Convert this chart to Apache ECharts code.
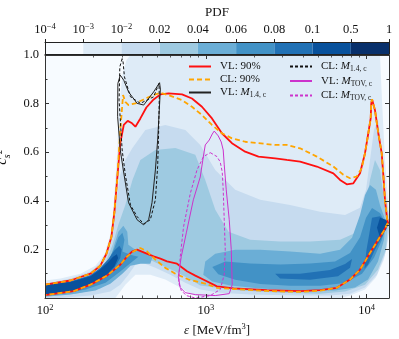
<!DOCTYPE html>
<html><head><meta charset="utf-8">
<script src="https://cdn.jsdelivr.net/npm/echarts@6/dist/echarts.min.js"></script>
<style>html,body{margin:0;padding:0;background:#fff}#c{width:399px;height:339px}</style>
</head><body><div id="c"></div>
<script>
// ---------- data ----------
const xMajorTicks = [100, 1000, 10000];
const xMinorTicks = [200,300,400,500,600,700,800,900,2000,3000,4000,5000,6000,7000,8000,9000];
const pdfBinLabels = ['10^-4','10^-3','10^-2','0.02','0.04','0.06','0.08','0.1','0.5','1'];
const pdfBins = [0,1,2,3,4,5,6,7,8];

const vl90 = [[100,0.055],[144,0.072],[192,0.100],[221,0.133],[241,0.182],[259,0.252],[270,0.351],[281,0.486],[294,0.638],[309,0.712],[327,0.729],[348,0.719],[365,0.705],[392,0.739],[427,0.784],[474,0.817],[522,0.838],[587,0.842],[712,0.838],[821,0.821],[947,0.787],[1093,0.739],[1260,0.678],[1455,0.637],[1759,0.602],[2128,0.582],[2702,0.575],[3193,0.568],[3863,0.561],[4906,0.541],[6220,0.513],[6845,0.486],[7535,0.468],[8279,0.472],[9113,0.513],[9788,0.596],[10260,0.678],[10620,0.740],[10700,0.800],[10820,0.818],[11290,0.773],[11840,0.678],[12430,0.596],[12720,0.507],[13030,0.404],[13410,0.330],[13600,0.310],[12840,0.277],[12130,0.252],[10510,0.185],[9113,0.117],[7899,0.076],[6530,0.042],[5143,0.032],[3863,0.028],[2399,0.032],[1489,0.040],[1174,0.048],[993,0.072],[861,0.092],[765,0.110],[662,0.141],[574,0.151],[522,0.162],[474,0.171],[411,0.188],[374,0.199],[348,0.191],[324,0.171],[294,0.137],[243,0.092],[192,0.055],[151,0.028],[100,0.012]];
const cl90 = [[100,0.055],[144,0.072],[192,0.100],[221,0.133],[241,0.182],[259,0.252],[270,0.351],[281,0.486],[294,0.691],[306,0.835],[316,0.807],[331,0.794],[365,0.801],[411,0.817],[474,0.835],[522,0.844],[587,0.835],[712,0.814],[821,0.787],[947,0.753],[1093,0.712],[1260,0.678],[1455,0.657],[1759,0.643],[2128,0.637],[2702,0.630],[3193,0.630],[3863,0.616],[4906,0.582],[6220,0.541],[7177,0.507],[7899,0.493],[8693,0.500],[9337,0.534],[9788,0.596],[10260,0.678],[10620,0.740],[10700,0.800],[10820,0.818],[11290,0.773],[11840,0.678],[12430,0.596],[12720,0.507],[13030,0.404],[13410,0.330],[13600,0.310],[12840,0.277],[12130,0.252],[10510,0.185],[9113,0.117],[7899,0.076],[6530,0.042],[5143,0.030],[3863,0.025],[2399,0.029],[1489,0.037],[1174,0.042],[993,0.059],[782,0.076],[647,0.100],[560,0.124],[486,0.158],[431,0.192],[392,0.206],[356,0.192],[324,0.171],[294,0.137],[243,0.092],[192,0.055],[151,0.028],[100,0.012]];
const vlM14 = [[294,0.917],[284,0.883],[283,0.746],[294,0.609],[307,0.527],[331,0.392],[374,0.322],[411,0.301],[441,0.322],[463,0.392],[486,0.527],[502,0.650],[514,0.773],[522,0.860],[516,0.886],[474,0.848],[411,0.794],[374,0.801],[331,0.848],[309,0.896],[294,0.917]];
const clM14 = [[302,0.985],[292,0.951],[289,0.814],[302,0.609],[316,0.507],[340,0.383],[374,0.335],[411,0.305],[452,0.322],[486,0.404],[502,0.541],[509,0.678],[514,0.828],[512,0.883],[474,0.828],[392,0.801],[340,0.828],[312,0.910],[306,0.971],[302,0.985]];
const vlMtov = [[1129,0.687],[1196,0.667],[1248,0.642],[1284,0.609],[1303,0.548],[1341,0.445],[1400,0.322],[1441,0.199],[1461,0.055],[1400,0.018],[1146,0.010],[861,0.014],[746,0.022],[694,0.043],[675,0.088],[704,0.170],[757,0.268],[837,0.404],[924,0.498],[965,0.580],[993,0.630],[1051,0.650],[1098,0.675],[1129,0.687]];
const clMtov = [[1067,0.598],[1174,0.582],[1230,0.560],[1266,0.519],[1284,0.445],[1303,0.322],[1322,0.199],[1303,0.096],[1230,0.035],[1067,0.010],[861,0.0],[757,0.010],[704,0.031],[678,0.063],[694,0.171],[728,0.294],[802,0.431],[882,0.527],[969,0.582],[1067,0.598]];

// density contour regions (filled bands of the PDF)
const dens1 = [[100,0.072],[125,0.080],[166,0.100],[206,0.133],[234,0.178],[255,0.260],[266,0.363],[274,0.486],[282,0.609],[286,0.732],[294,0.835],[303,0.917],[321,0.978],[340,1.0],[12130,1.0],[12480,0.814],[13030,0.568],[13600,0.404],[13800,0.310],[13600,0.240],[12840,0.158],[11450,0.084],[9788,0.035],[7899,0.010],[6845,0.0],[924,0.0],[802,0.018],[694,0.043],[560,0.076],[452,0.096],[365,0.096],[316,0.055],[274,0.0],[100,0.0]];
const dens2 = [[100,0.059],[144,0.080],[192,0.109],[228,0.150],[248,0.207],[263,0.301],[278,0.404],[294,0.507],[316,0.568],[350,0.617],[421,0.691],[560,0.712],[746,0.691],[924,0.630],[1146,0.527],[1525,0.445],[2181,0.404],[3347,0.383],[5143,0.355],[7354,0.342],[9113,0.371],[9929,0.445],[10512,0.568],[11130,0.691],[11790,0.732],[12480,0.609],[13030,0.445],[13800,0.342],[13800,0.273],[13030,0.178],[11620,0.096],[9788,0.043],[7899,0.018],[5934,0.010],[3863,0.010],[1890,0.014],[1230,0.022],[924,0.035],[746,0.063],[602,0.096],[486,0.125],[403,0.145],[365,0.137],[330,0.096],[294,0.055],[255,0.027],[192,0.010],[125,0.0],[100,0.0]];
const dens3 = [[100,0.051],[155,0.072],[206,0.104],[238,0.145],[263,0.219],[286,0.301],[316,0.383],[350,0.486],[392,0.568],[486,0.609],[647,0.617],[861,0.589],[993,0.486],[1146,0.363],[1386,0.273],[1890,0.240],[2902,0.232],[4459,0.232],[6845,0.240],[8860,0.273],[9788,0.363],[10512,0.486],[11290,0.568],[12130,0.527],[12840,0.404],[13600,0.314],[13210,0.199],[11790,0.117],[9788,0.055],[7354,0.027],[5143,0.018],[2902,0.022],[1638,0.031],[1146,0.043],[924,0.051],[802,0.076],[647,0.109],[507,0.141],[421,0.166],[365,0.166],[316,0.125],[274,0.076],[221,0.039],[155,0.018],[100,0.010]];
const dens4a = [[100,0.054],[144,0.066],[192,0.090],[228,0.122],[255,0.165],[270,0.219],[286,0.273],[307,0.297],[325,0.273],[330,0.219],[365,0.199],[421,0.187],[465,0.166],[452,0.141],[392,0.141],[340,0.133],[303,0.100],[255,0.059],[206,0.031],[144,0.014],[100,0.005]];
const dens4b = [[993,0.150],[1146,0.182],[1525,0.199],[2181,0.199],[3347,0.191],[5143,0.182],[6845,0.199],[8128,0.248],[9113,0.342],[9788,0.424],[10512,0.465],[11450,0.445],[12130,0.383],[13210,0.314],[12840,0.240],[11790,0.150],[10216,0.076],[8483,0.043],[6373,0.031],[3863,0.031],[2181,0.039],[1420,0.051],[1098,0.068],[965,0.096]];
const dens5a = [[100,0.054],[144,0.068],[186,0.090],[221,0.120],[248,0.155],[270,0.205],[286,0.250],[303,0.269],[312,0.240],[303,0.191],[340,0.178],[381,0.170],[350,0.150],[294,0.109],[238,0.063],[179,0.035],[125,0.016],[100,0.010]];
const dens5b = [[1098,0.128],[1322,0.150],[1890,0.142],[2902,0.138],[4459,0.142],[6373,0.150],[7899,0.185],[9113,0.250],[9929,0.330],[10820,0.370],[12130,0.350],[13210,0.306],[12480,0.240],[11130,0.166],[9376,0.100],[7354,0.062],[5143,0.050],[3347,0.050],[2181,0.058],[1525,0.075],[1196,0.098]];
const dens6a = [[100,0.054],[144,0.068],[192,0.094],[221,0.125],[248,0.160],[270,0.195],[290,0.215],[300,0.200],[294,0.165],[270,0.125],[240,0.090],[200,0.058],[150,0.030],[100,0.012]];
const dens6b = [[2700,0.100],[3863,0.100],[5934,0.115],[7354,0.140],[8128,0.160],[7899,0.125],[6653,0.090],[4459,0.075],[2902,0.080]];
const dens6c = [[10820,0.330],[12130,0.336],[13210,0.314],[12720,0.260],[11290,0.199],[10216,0.137],[9700,0.120],[10000,0.199],[10512,0.281]];
const dens7a = [[100,0.052],[144,0.066],[192,0.090],[221,0.118],[245,0.145],[265,0.170],[280,0.180],[285,0.165],[270,0.130],[245,0.100],[215,0.070],[180,0.045],[140,0.025],[100,0.014]];
const dens7b = [[12130,0.330],[13210,0.322],[13800,0.310],[13210,0.281],[12130,0.248],[11620,0.289]];

const densPolys = [dens1, dens2, dens3, dens4a, dens4b, dens5a, dens5b, dens6a, dens6b, dens6c, dens7a, dens7b];
const densLevel = [1, 2, 3, 4, 4, 5, 5, 6, 6, 6, 7, 7];

// ---------- styles ----------
const pdfColors = ['#f7fbff','#deebf7','#c6dbef','#9ecae1','#6baed6','#4292c6','#2171b5','#08519c','#08306b'];
const FONT = 'Liberation Serif';
const TXT = '#111';
const AX = '#333';

const powRich = {
  b: {fontFamily: FONT, fontSize: 12.5, color: TXT, lineHeight: 16},
  s: {fontFamily: FONT, fontSize: 8.5, color: TXT, lineHeight: 9, verticalAlign: 'top'}
};
function powLabel(v) {
  const p = Math.log10(v);
  if (Math.abs(p - Math.round(p)) > 1e-6) return '';
  return '{b|10}{s|' + Math.round(p) + '}';
}
function cbLabel(v) {
  const t = pdfBinLabels[Math.round(v)];
  if (t === undefined) return '';
  if (t.indexOf('10^') === 0) return '{b|10}{s|' + t.slice(3).replace('-', '\u2212') + '}';
  return '{b|' + t + '}';
}
const legendRich = {
  t: {fontFamily: FONT, fontSize: 11, color: TXT, lineHeight: 14},
  m: {fontFamily: FONT, fontSize: 11, fontStyle: 'italic', color: TXT, lineHeight: 14},
  s: {fontFamily: FONT, fontSize: 7.5, color: TXT, lineHeight: 8, verticalAlign: 'bottom'}
};
function legendFmt(name) {
  const parts = name.split(': ');
  const pre = '{t|' + parts[0] + ': }';
  if (parts[1] === 'M1.4,c') return pre + '{m|M}{s|1.4, c}';
  if (parts[1] === 'MTOV,c') return pre + '{m|M}{s|TOV, c}';
  return '{t|' + name + '}';
}

const chart = echarts.init(document.getElementById('c'), null, {renderer: 'canvas', width: 399, height: 339});

const legendBase = {orient: 'vertical', top: 56, itemWidth: 22, itemHeight: 10, itemGap: 2,
  formatter: legendFmt, itemStyle: {opacity: 0}, textStyle: {rich: legendRich, padding: [0, 0, 0, 4]}};

const option = {
  animation: false,
  backgroundColor: '#ffffff',
  grid: [
    {left: 45, right: 10, top: 55, bottom: 41, show: true, backgroundColor: pdfColors[0], borderWidth: 0, outerBoundsMode: 'none', containLabel: false},
    {left: 45, right: 10, top: 42, height: 12, show: false, outerBoundsMode: 'none', containLabel: false}
  ],
  xAxis: [
    {type: 'log', gridIndex: 0, min: 100, max: 13800, logBase: 10, position: 'bottom', z: 10,
     axisLine: {show: true, onZero: false, lineStyle: {color: AX, width: 1}},
     axisTick: {show: true, inside: true, length: 4, lineStyle: {color: AX}},
     splitLine: {show: false}, minorTick: {show: false},
     axisLabel: {formatter: powLabel, rich: powRich, margin: 5, showMinLabel: true, showMaxLabel: false},
     name: '{e|\u03b5} {t|[MeV/fm}{s|3}{t|]}', nameLocation: 'middle', nameGap: 17,
     nameTextStyle: {rich: {
       e: {fontFamily: FONT, fontSize: 13, fontStyle: 'italic', color: TXT, lineHeight: 16},
       t: {fontFamily: FONT, fontSize: 13, color: TXT, lineHeight: 16},
       s: {fontFamily: FONT, fontSize: 8.5, color: TXT, lineHeight: 9, verticalAlign: 'top'}}}},
    {type: 'log', gridIndex: 0, min: 100, max: 13800, logBase: 10, position: 'top', z: 10,
     axisLine: {show: true, onZero: false, lineStyle: {color: AX, width: 1}},
     axisTick: {show: true, inside: true, length: 4, lineStyle: {color: AX}},
     splitLine: {show: false}, axisLabel: {show: false}},
    {type: 'value', gridIndex: 1, min: 0, max: 9, interval: 1, position: 'top', z: 10,
     axisLine: {show: true, onZero: false, lineStyle: {color: '#222', width: 1}},
     axisTick: {show: true, inside: false, length: 3, lineStyle: {color: '#222'}},
     splitLine: {show: false},
     axisLabel: {formatter: cbLabel, rich: powRich, margin: 4},
     name: 'PDF', nameLocation: 'middle', nameGap: 23,
     nameTextStyle: {fontFamily: FONT, fontSize: 13, color: TXT}},
    {type: 'value', gridIndex: 1, min: 0, max: 9, position: 'bottom', z: 10,
     axisLine: {show: true, onZero: false, lineStyle: {color: '#222', width: 1}},
     axisTick: {show: false}, axisLabel: {show: false}, splitLine: {show: false}}
  ],
  yAxis: [
    {type: 'value', gridIndex: 0, min: 0, max: 1, interval: 0.2, position: 'left', z: 10,
     axisLine: {show: true, onZero: false, lineStyle: {color: AX, width: 1}},
     axisTick: {show: true, inside: true, length: 4, lineStyle: {color: AX}},
     minorTick: {show: true, splitNumber: 2, length: 2.5, lineStyle: {color: AX}},
     splitLine: {show: false},
     axisLabel: {formatter: v => (v < 0.1 ? '' : v.toFixed(1)), fontFamily: FONT, fontSize: 12.5, color: TXT, margin: 6},
     name: '{c|c}{sb|s}{c2|\u00b2}', nameLocation: 'middle', nameRotate: 90, nameGap: 22,
     nameTextStyle: {padding: [0, 0, 0, 38], rich: {
       c: {fontFamily: FONT, fontSize: 15, fontStyle: 'italic', color: TXT, lineHeight: 20},
       c2: {fontFamily: FONT, fontSize: 14, color: TXT, lineHeight: 20},
       sb: {fontFamily: FONT, fontSize: 10, fontStyle: 'italic', color: TXT, lineHeight: 10, verticalAlign: 'bottom'}}}},
    {type: 'value', gridIndex: 0, min: 0, max: 1, interval: 0.2, position: 'right', z: 10,
     axisLine: {show: true, onZero: false, lineStyle: {color: AX, width: 1}},
     axisTick: {show: true, inside: true, length: 4, lineStyle: {color: AX}},
     minorTick: {show: true, splitNumber: 2, length: 2.5, lineStyle: {color: AX}},
     splitLine: {show: false}, axisLabel: {show: false}},
    {type: 'value', gridIndex: 1, min: 0, max: 1, position: 'left', z: 10,
     axisLine: {show: true, onZero: false, lineStyle: {color: '#222', width: 1}},
     axisTick: {show: false}, axisLabel: {show: false}, splitLine: {show: false}},
    {type: 'value', gridIndex: 1, min: 0, max: 1, position: 'right', z: 10,
     axisLine: {show: true, onZero: false, lineStyle: {color: '#222', width: 1}},
     axisTick: {show: false}, axisLabel: {show: false}, splitLine: {show: false}}
  ],
  legend: [
    Object.assign({}, legendBase, {data: ['VL: 90%', 'CL: 90%', 'VL: M1.4,c'], left: 183}),
    Object.assign({}, legendBase, {data: ['CL: M1.4,c', 'VL: MTOV,c', 'CL: MTOV,c'], left: 284})
  ],
  series: [
    {type: 'custom', name: 'density', xAxisIndex: 0, yAxisIndex: 0, z: 1, clip: true, silent: true,
     data: densPolys.map(p => p[0]),
     renderItem: (params, api) => {
       const i = params.dataIndex;
       const pts = densPolys[i].map(p => api.coord(p));
       return {type: 'polygon', shape: {points: pts}, style: {fill: pdfColors[densLevel[i]], stroke: null}};
     }},
    {type: 'custom', name: 'colorbar', xAxisIndex: 2, yAxisIndex: 2, z: 1, silent: true,
     data: pdfBins.map(b => [b, 0]),
     renderItem: (params, api) => {
       const b = api.value(0);
       const p0 = api.coord([b, 1]);
       const p1 = api.coord([b + 1, 0]);
       return {type: 'rect', shape: {x: p0[0], y: p0[1], width: p1[0] - p0[0], height: p1[1] - p0[1]},
               style: {fill: pdfColors[b], stroke: null}};
     }},
    {type: 'custom', name: 'xminor', xAxisIndex: 0, yAxisIndex: 0, z: 20, silent: true, clip: false,
     data: xMinorTicks.map(v => [v, 0]),
     renderItem: (params, api) => {
       const v = api.value(0);
       const b = api.coord([v, 0]);
       const t = api.coord([v, 1]);
       const x = Math.round(b[0]) + 0.5;
       return {type: 'group', children: [
         {type: 'line', shape: {x1: x, y1: b[1], x2: x, y2: b[1] - 2.5}, style: {stroke: AX, lineWidth: 0.8}},
         {type: 'line', shape: {x1: x, y1: t[1], x2: x, y2: t[1] + 2.5}, style: {stroke: AX, lineWidth: 0.8}}
       ]};
     }},
    {type: 'line', name: 'VL: 90%', data: vl90, symbol: 'none', z: 5, clip: true,
     lineStyle: {color: '#ff1010', width: 1.8}, itemStyle: {color: '#ff1010'}},
    {type: 'line', name: 'CL: 90%', data: cl90, symbol: 'none', z: 6, clip: true,
     lineStyle: {color: '#ffa500', width: 1.8, type: [5, 3]}, itemStyle: {color: '#ffa500'}},
    {type: 'line', name: 'VL: M1.4,c', data: vlM14, symbol: 'none', z: 7, clip: true,
     lineStyle: {color: '#222', width: 1}, itemStyle: {color: '#222'}},
    {type: 'line', name: 'CL: M1.4,c', data: clM14, symbol: 'none', z: 7, clip: true,
     lineStyle: {color: '#111', width: 1, type: [3, 2]}, itemStyle: {color: '#111'}},
    {type: 'line', name: 'VL: MTOV,c', data: vlMtov, symbol: 'none', z: 7, clip: true,
     lineStyle: {color: '#cc33cc', width: 1}, itemStyle: {color: '#cc33cc'}},
    {type: 'line', name: 'CL: MTOV,c', data: clMtov, symbol: 'none', z: 7, clip: true,
     lineStyle: {color: '#cc33cc', width: 1, type: [3, 2]}, itemStyle: {color: '#cc33cc'}}
  ]
};
chart.setOption(option);
</script></body></html>
